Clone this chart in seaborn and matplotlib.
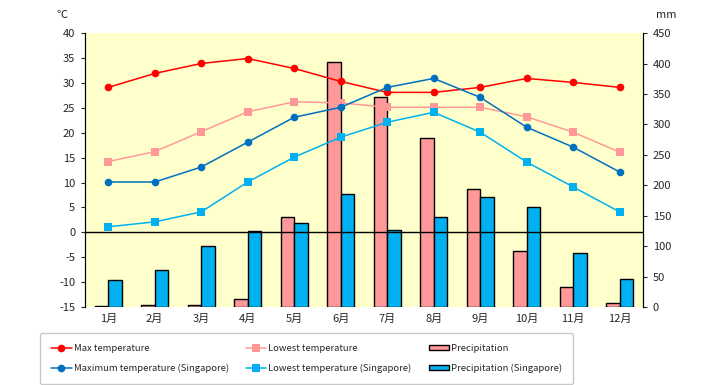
import numpy as np
import pandas as pd
import matplotlib
matplotlib.use("Agg")
import matplotlib.pyplot as plt
import seaborn as sns

# monthly climate comparison vs Singapore

months = [f"{i}月" for i in range(1, 13)]

max_temp = [29.1, 31.9, 33.9, 34.9, 32.9, 30.3, 28.1, 28.1, 29.1, 30.9, 30.1, 29.1]
low_temp = [14.2, 16.2, 20.2, 24.2, 26.2, 26.0, 25.1, 25.1, 25.1, 23.2, 20.1, 16.1]
precip = [2, 3, 4, 13, 148, 402, 345, 277, 194, 92, 33, 7]

max_temp_sg = [10.1, 10.1, 13.1, 18.1, 23.1, 25.1, 29.1, 30.9, 27.1, 21.1, 17.1, 12.1]
low_temp_sg = [1.1, 2.1, 4.1, 10.1, 15.1, 19.1, 22.1, 24.1, 20.1, 14.1, 9.1, 4.1]
precip_sg = [44, 61, 100, 125, 138, 186, 126, 148, 181, 164, 89, 46]

sns.set_style("white")
plt.rcParams['font.family'] = ['Noto Sans CJK JP', 'DejaVu Sans']
plt.rcParams['axes.unicode_minus'] = False

bars = pd.DataFrame({
    'month': months * 2,
    'mm': precip + precip_sg,
    'series': ['Precipitation'] * 12 + ['Precipitation (Singapore)'] * 12,
})

fig = plt.figure(figsize=(7.2, 3.85), dpi=100)
ax_bar = fig.add_axes([0.118, 0.2026, 0.775, 0.7114])
ax_bar.set_facecolor('#FFFFCC')

sns.barplot(data=bars, x='month', y='mm', hue='series', order=months,
            palette=['#FF9999', '#00B0F0'], saturation=1, edgecolor='black',
            linewidth=1, width=0.575, gap=0, ax=ax_bar)
ax_bar.set_ylim(0, 450)
ax_bar.set_yticks(range(0, 451, 50))
ax_bar.set_xlabel('')
ax_bar.set_ylabel('')
ax_bar.set_xlim(-0.5, 11.5)

ax = ax_bar.twinx()
pos = np.arange(len(months))
lines = [
    (max_temp, 'Max temperature', '#FF0000', 'o'),
    (low_temp, 'Lowest temperature', '#FF9999', 's'),
    (max_temp_sg, 'Maximum temperature (Singapore)', '#0070C0', 'o'),
    (low_temp_sg, 'Lowest temperature (Singapore)', '#00B0F0', 's'),
]
for vals, name, col, mk in lines:
    sns.lineplot(x=pos, y=vals, ax=ax, color=col, marker=mk, markersize=5.5,
                 markeredgewidth=0, linewidth=1.1, label=name)
ax.axhline(0, color='black', linewidth=1)
ax.set_ylim(-15, 40)
ax.set_yticks(range(-15, 41, 5))
ax.set_xlim(-0.5, 11.5)

# swap sides: temperature on the left, rain on the right
ax.yaxis.tick_left()
ax_bar.yaxis.tick_right()

for a in (ax, ax_bar):
    a.spines['top'].set_visible(False)
    a.spines['bottom'].set_visible(False)
    a.spines['left'].set_color('black')
    a.spines['right'].set_color('black')
    a.tick_params(axis='y', length=3, width=0.8, labelsize=8, pad=4)
    a.tick_params(axis='x', length=0, labelsize=8, pad=5)

lh, ll = ax.get_legend_handles_labels()
bh, bl = ax_bar.get_legend_handles_labels()
ax.get_legend().remove()
ax_bar.get_legend().remove()
handles = [lh[0], lh[2], lh[1], lh[3], bh[0], bh[1]]
labels = [ll[0], ll[2], ll[1], ll[3], bl[0], bl[1]]
leg = fig.legend(handles, labels, ncol=3, loc='lower left',
                 bbox_to_anchor=(0.0556, 0.003), fontsize=6.8,
                 frameon=True, fancybox=True, edgecolor='#BBBBBB',
                 handlelength=2.2, handleheight=0.5, handletextpad=0.2,
                 borderaxespad=0, columnspacing=1.8, labelspacing=1.15,
                 borderpad=1.15)
leg.get_frame().set_linewidth(1)

fig.text(0.086, 0.96, '℃', fontsize=8, ha='center', va='center')
fig.text(0.926, 0.96, 'mm', fontsize=8, ha='center', va='center')

fig.savefig('out.png', dpi=100)
